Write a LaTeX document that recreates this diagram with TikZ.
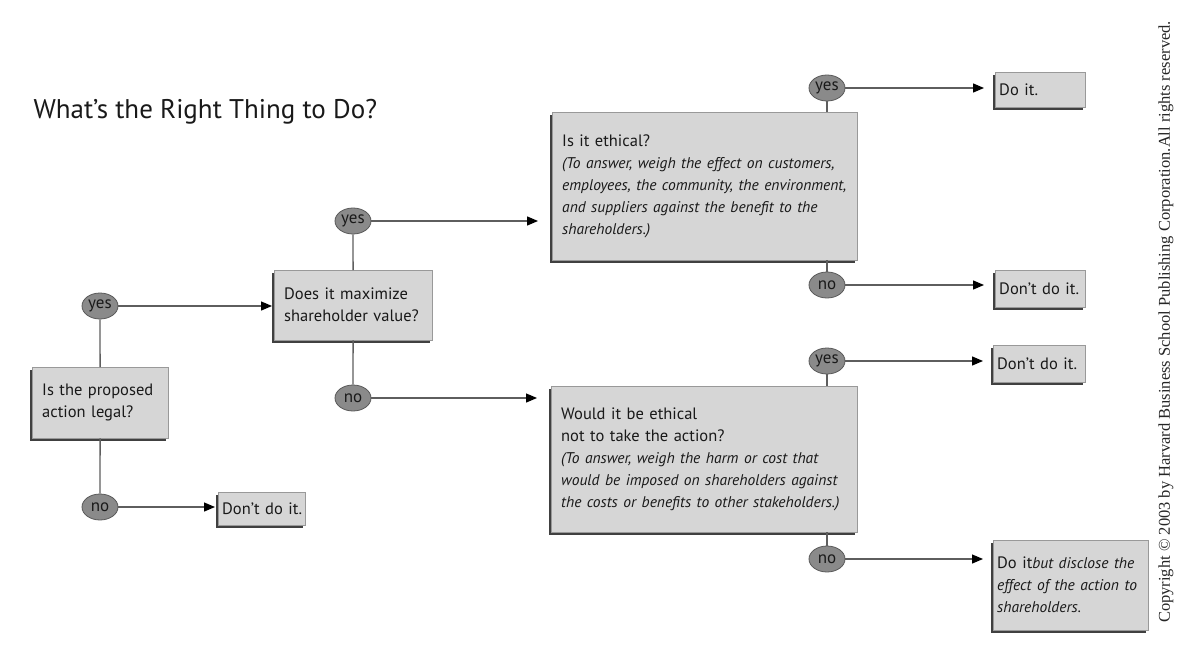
\documentclass[tikz,border=0pt]{standalone}
\usepackage{fontspec}
\setmainfont{PT Sans}
\newfontfamily\copyfont{Liberation Serif}
\usetikzlibrary{arrows.meta,shapes.geometric,shadows}
\definecolor{boxgray}{HTML}{D6D6D6}
\definecolor{ovalgray}{HTML}{8A8A8A}
\definecolor{linegray}{HTML}{5E5E5E}
\newcommand{\keep}[1]{\mbox{#1}}
\newcommand{\aside}[1]{\mbox{\fontsize{15.5}{22}\selectfont\itshape #1}}
\tikzset{
	question/.style={rectangle, draw=gray!80, fill=boxgray, anchor=north west, align=left, inner xsep=10pt,
		font=\fontsize{16.5}{22}\selectfont, text=black!90,
		drop shadow={shadow xshift=-2.5pt, shadow yshift=-2.5pt, opacity=1, fill=black!75}},
	outcome/.style={question, inner xsep=4pt},
	answer/.style={ellipse, draw=black!65, line width=0.8pt, fill=ovalgray, minimum width=36pt, minimum height=26pt, inner sep=0pt,
		font=\fontsize{17}{17}\selectfont, text=black!90},
	link/.style={draw=linegray, line width=1.3pt},
	arrow/.style={link, -{Triangle[length=11pt,width=9pt,color=black]}}
}
\begin{document}
\begin{tikzpicture}[x=1pt, y=-1pt]
	\useasboundingbox (0,0) rectangle (1195,646);
	\node[anchor=west, font=\fontsize{27}{32}\selectfont, text=black!90] (title) at (30,112) {What's the Right Thing to Do?};
	% questions
	\node[question, text width=116pt, minimum height=71pt] (legal) at (32,367) {\keep{Is the proposed}\\\keep{action legal?}};
	\node[question, text width=138pt, minimum height=70pt] (maxvalue) at (274,270) {\keep{Does it maximize}\\\keep{shareholder value?}};
	\node[question, text width=285pt, minimum height=148pt] (ethical) at (552,112) {\keep{Is it ethical?}\\\aside{(To answer, weigh the effect on customers,}\\\aside{employees, the community, the environment,}\\\aside{and suppliers against the benefit to the}\\\aside{shareholders.)}};
	\node[question, text width=286pt, minimum height=146pt] (notact) at (551,386) {\keep{Would it be ethical}\\\keep{not to take the action?}\\\aside{(To answer, weigh the harm or cost that}\\\aside{would be imposed on shareholders against}\\\aside{the costs or benefits to other stakeholders.)}};
	% outcomes
	\node[outcome, text width=79pt, minimum height=33pt] (dont1) at (218,492) {\keep{Don't do it.}};
	\node[outcome, text width=82pt, minimum height=35pt] (doit) at (995,72) {\keep{Do it.}};
	\node[outcome, text width=82pt, minimum height=37pt] (dont2) at (995,270) {\keep{Don't do it.}};
	\node[outcome, text width=84pt, minimum height=37pt] (dont3) at (993,345) {\keep{Don't do it.}};
	\node[outcome, text width=147pt, minimum height=90pt] (disclose) at (993,540) {\keep{Do it\aside{but disclose the}}\\\aside{effect of the action to}\\\aside{shareholders.}};
	% answers
	\node[answer] (yes1) at (100,306) {yes};
	\node[answer] (no1) at (100,507) {no};
	\node[answer] (yes2) at (353,221) {yes};
	\node[answer] (no2) at (353,398) {no};
	\node[answer] (yes3) at (827,88) {yes};
	\node[answer] (no3) at (827,285) {no};
	\node[answer] (yes4) at (827,361) {yes};
	\node[answer] (no4) at (827,559) {no};
	% connectors
	\draw[link] (legal) -- (yes1);
	\draw[link] (legal) -- (no1);
	\draw[link] (maxvalue) -- (yes2);
	\draw[link] (maxvalue) -- (no2);
	\draw[link] (yes3 |- ethical.north) -- (yes3);
	\draw[link] (no3 |- ethical.south) -- (no3);
	\draw[link] (yes4 |- notact.north) -- (yes4);
	\draw[link] (no4 |- notact.south) -- (no4);
	\draw[arrow, shorten >=2pt] (yes1) -- (yes1 -| maxvalue.west);
	\draw[arrow, shorten >=3pt] (no1) -- (no1 -| dont1.west);
	\draw[arrow, shorten >=14pt] (yes2) -- (yes2 -| ethical.west);
	\draw[arrow, shorten >=14pt] (no2) -- (no2 -| notact.west);
	\draw[arrow, shorten >=11pt] (yes3) -- (yes3 -| doit.west);
	\draw[arrow, shorten >=11pt] (no3) -- (no3 -| dont2.west);
	\draw[arrow, shorten >=10pt] (yes4) -- (yes4 -| dont3.west);
	\draw[arrow, shorten >=10pt] (no4) -- (no4 -| disclose.west);
	\node[rotate=90, font=\copyfont\fontsize{16.5}{16.5}\selectfont, text=black!85] (copyright) at (1166,322) {Copyright \textcopyright\ 2003 by Harvard Business School Publishing Corporation.All rights reserved.};
\end{tikzpicture}
\end{document}
